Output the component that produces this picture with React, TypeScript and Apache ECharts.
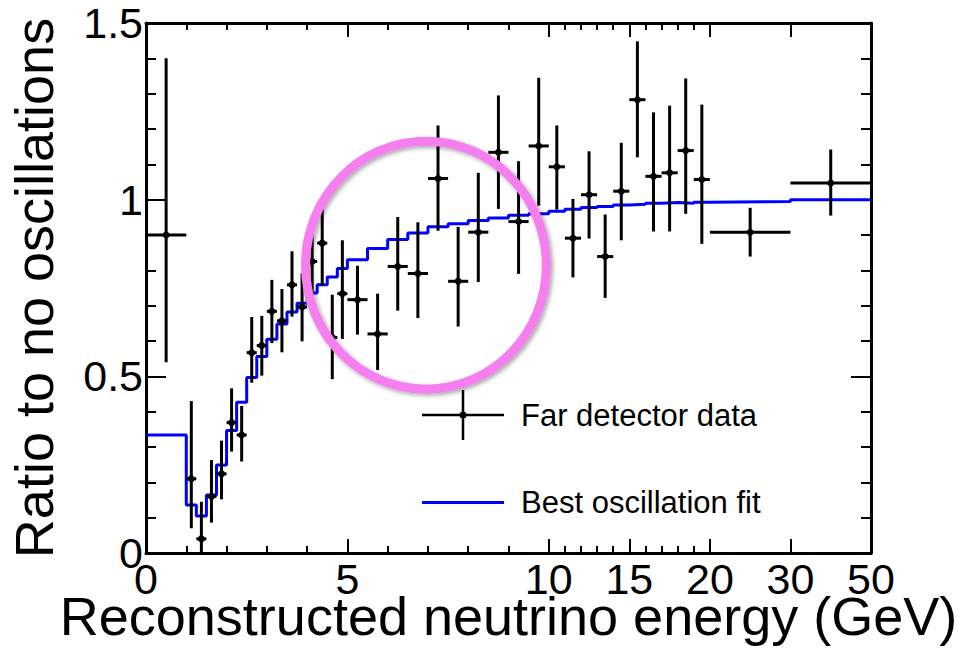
import React, { useEffect, useRef } from "react";
import * as echarts from "echarts";

// Bin edges in GeV (39 bins)
const binEdges = [0, 1, 1.25, 1.5, 1.75, 2, 2.25, 2.5, 2.75, 3, 3.25, 3.5, 3.75, 4, 4.25, 4.5, 4.75, 5,
  5.5, 6, 6.5, 7, 7.5, 8, 8.5, 9, 9.5, 10, 11, 12, 13, 14, 15, 16, 17, 18, 19, 20, 30, 50];

// Far detector data: ratio and error bar extents
const dataRatio = [0.90, 0.21, 0.04, 0.16, 0.224, 0.369, 0.334, 0.567, 0.587, 0.684, 0.657, 0.759, 0.696,
  0.825, 0.877, 0.61, 0.734, 0.717, 0.620, 0.811, 0.791, 1.060, 0.769, 0.908, 1.134, 0.938, 1.152,
  1.093, 0.891, 1.014, 0.839, 1.024, 1.283, 1.066, 1.076, 1.139, 1.057, 0.908, 1.047];
const dataHigh = [1.40, 0.43, 0.145, 0.263, 0.318, 0.466, 0.416, 0.668, 0.671, 0.773, 0.747, 0.854, 0.792,
  0.925, 0.975, 0.731, 0.885, 0.813, 0.734, 0.951, 0.936, 1.210, 0.923, 1.076, 1.295, 1.109, 1.345,
  1.210, 1.002, 1.137, 0.958, 1.161, 1.448, 1.247, 1.266, 1.343, 1.269, 0.977, 1.142];
const dataLow = [0.54, 0.07, 0.0, 0.086, 0.152, 0.287, 0.259, 0.482, 0.502, 0.594, 0.568, 0.669, 0.599,
  0.725, 0.756, 0.492, 0.606, 0.618, 0.518, 0.686, 0.665, 0.912, 0.641, 0.767, 0.974, 0.790, 0.983,
  0.972, 0.780, 0.890, 0.722, 0.885, 1.120, 0.910, 0.910, 0.960, 0.875, 0.839, 0.955];

// Best oscillation fit, one value per bin
const fitRatio = [0.334, 0.136, 0.105, 0.164, 0.249, 0.347, 0.427, 0.497, 0.556, 0.605, 0.648, 0.682, 0.707,
  0.736, 0.759, 0.781, 0.805, 0.830, 0.862, 0.887, 0.906, 0.923, 0.932, 0.941, 0.948, 0.956, 0.960,
  0.967, 0.973, 0.978, 0.981, 0.985, 0.987, 0.990, 0.992, 0.990, 0.993, 0.995, 1.0];

// Axis ticks (GeV)
const majorTicks = [0, 5, 10, 15, 20, 30, 50];
const minorTicks = [1, 2, 3, 4, 6, 7, 8, 9, 11, 12, 13, 14, 16, 17, 18, 19];

// Highlight circle (annotation) in data space: centre energy, ratio; radii in axis units
const circleCenter = [6.95, 0.8145];
const circleRadius = [2.99, 0.351];

const FONT = "'Liberation Sans', Arial, Helvetica, sans-serif";

// Piecewise-linear energy scale used by the reference x axis
const toAxis = (e: number) =>
  e <= 10 ? e : e <= 20 ? 10 + (e - 10) * 0.4 : e <= 30 ? 14 + (e - 20) * 0.2 : 16 + (e - 30) * 0.1;

export default function App() {
  const ref = useRef<HTMLDivElement>(null);
  useEffect(() => {
    if (!ref.current) return;
    const chart = echarts.init(ref.current, null, { renderer: "svg" });
    const majorPos = majorTicks.map(toAxis);
    const minorPos = minorTicks.map(toAxis);
    const pts = dataRatio.map((v, i) => {
      const a = toAxis(binEdges[i]);
      const b = toAxis(binEdges[i + 1]);
      return [a, b, (a + b) / 2, v, dataLow[i], dataHigh[i]];
    });
    const fitLine = binEdges.map((e, i) => [toAxis(e), fitRatio[Math.min(i, fitRatio.length - 1)]]);

    const axisBase = {
      type: "value",
      min: 0,
      max: 18,
      splitLine: { show: false },
      gridIndex: 0,
    };
    const lineOn = { show: true, onZero: false, lineStyle: { color: "#000", width: 3 } };
    const lineOff = { show: false, onZero: false };

    const option: any = {
      animation: false,
      backgroundColor: "#fff",
      grid: { left: 146, right: 106, top: 23, bottom: 111, outerBoundsMode: "none", containLabel: false },
      xAxis: [
        {
          ...axisBase,
          position: "bottom",
          axisLine: lineOn,
          axisTick: { show: true, inside: true, length: 14, customValues: majorPos, lineStyle: { color: "#000", width: 2 } },
          axisLabel: {
            show: true,
            customValues: majorPos,
            margin: 10,
            fontSize: 43,
            lineHeight: 32,
            color: "#000",
            fontFamily: FONT,
            formatter: (v: number) => {
              const i = majorPos.findIndex((p) => Math.abs(p - v) < 1e-6);
              return i >= 0 ? String(majorTicks[i]) : "";
            },
          },
          name: "Reconstructed neutrino energy (GeV)",
          nameLocation: "middle",
          nameGap: 44,
          nameMoveOverlap: false,
          nameTextStyle: { fontSize: 54, lineHeight: 38, color: "#000", fontFamily: FONT },
        },
        {
          ...axisBase,
          position: "bottom",
          axisLine: lineOff,
          axisTick: { show: true, inside: true, length: 7, customValues: minorPos, lineStyle: { color: "#000", width: 2 } },
          axisLabel: { show: false },
        },
        {
          ...axisBase,
          position: "top",
          axisLine: lineOn,
          axisTick: { show: true, inside: true, length: 14, customValues: majorPos, lineStyle: { color: "#000", width: 2 } },
          axisLabel: { show: false },
        },
        {
          ...axisBase,
          position: "top",
          axisLine: lineOff,
          axisTick: { show: true, inside: true, length: 7, customValues: minorPos, lineStyle: { color: "#000", width: 2 } },
          axisLabel: { show: false },
        },
      ],
      yAxis: [
        {
          type: "value",
          min: 0,
          max: 1.5,
          interval: 0.5,
          position: "left",
          splitLine: { show: false },
          axisLine: lineOn,
          axisTick: { show: true, inside: true, length: 20, lineStyle: { color: "#000", width: 2 } },
          minorTick: { show: true, splitNumber: 5, length: 10, lineStyle: { color: "#000", width: 2 } },
          axisLabel: { margin: 3, fontSize: 43, color: "#000", fontFamily: FONT },
          name: "Ratio to no oscillations",
          nameLocation: "middle",
          nameRotate: 90,
          nameGap: 85,
          nameMoveOverlap: false,
          nameTextStyle: { fontSize: 54, color: "#000", fontFamily: FONT },
        },
        {
          type: "value",
          min: 0,
          max: 1.5,
          interval: 0.5,
          position: "right",
          splitLine: { show: false },
          axisLine: lineOn,
          axisTick: { show: true, inside: true, length: 20, lineStyle: { color: "#000", width: 2 } },
          minorTick: { show: true, splitNumber: 5, length: 10, lineStyle: { color: "#000", width: 2 } },
          axisLabel: { show: false },
        },
      ],
      legend: {
        orient: "vertical",
        left: 422,
        top: 390,
        padding: 0,
        itemWidth: 82,
        itemHeight: 50,
        itemGap: 47,
        selectedMode: false,
        textStyle: { fontSize: 31, color: "#000", fontFamily: FONT, padding: [0, 0, 0, 12] },
        data: [
          {
            name: "Far detector data",
            icon: "path://M0,23.75H82V26.25H0Z M39.75,0H42.25V50H39.75Z M44.5,25A3.5,3.5 0 1 1 37.5,25A3.5,3.5 0 1 1 44.5,25Z",
          },
          { name: "Best oscillation fit", icon: "path://M0,0H82V3H0Z" },
        ],
      },
      series: [
        {
          name: "Best oscillation fit",
          type: "line",
          xAxisIndex: 0,
          yAxisIndex: 0,
          step: "end",
          symbol: "none",
          data: fitLine,
          lineStyle: { color: "#0000ff", width: 3 },
          itemStyle: { color: "#0000ff" },
          z: 2,
        },
        {
          name: "Far detector data",
          type: "custom",
          xAxisIndex: 0,
          yAxisIndex: 0,
          itemStyle: { color: "#000" },
          encode: { x: [0, 1, 2], y: [3, 4, 5] },
          data: pts,
          z: 3,
          renderItem: (params: any, api: any) => {
            const xl = api.value(0), xh = api.value(1), xc = api.value(2);
            const y = api.value(3), lo = api.value(4), hi = api.value(5);
            const pL = api.coord([xl, y]);
            const pH = api.coord([xh, y]);
            const pLo = api.coord([xc, lo]);
            const pHi = api.coord([xc, hi]);
            const pC = api.coord([xc, y]);
            return {
              type: "group",
              children: [
                { type: "line", shape: { x1: pL[0], y1: pL[1], x2: pH[0], y2: pH[1] }, style: { stroke: "#000", lineWidth: 3 } },
                { type: "line", shape: { x1: pLo[0], y1: pLo[1], x2: pHi[0], y2: pHi[1] }, style: { stroke: "#000", lineWidth: 3 } },
                { type: "circle", shape: { cx: pC[0], cy: pC[1], r: 3.5 }, style: { fill: "#000" } },
              ],
            };
          },
        },
      ],
    };
    chart.setOption(option);

    const c = chart.convertToPixel({ xAxisIndex: 0, yAxisIndex: 0 }, [circleCenter[0], circleCenter[1]]) as number[];
    const r = chart.convertToPixel({ xAxisIndex: 0, yAxisIndex: 0 }, [
      circleCenter[0] + circleRadius[0],
      circleCenter[1] + circleRadius[1],
    ]) as number[];
    chart.setOption({
      graphic: [
        {
          type: "ellipse",
          z: 100,
          shape: { cx: c[0], cy: c[1], rx: Math.abs(r[0] - c[0]), ry: Math.abs(c[1] - r[1]) },
          style: {
            fill: "none",
            stroke: "#f67ff0",
            lineWidth: 9,
            shadowBlur: 4,
            shadowColor: "rgba(0,0,0,0.35)",
            shadowOffsetX: 2,
            shadowOffsetY: 2,
          },
        },
      ],
    });
    return () => chart.dispose();
  }, []);
  return (
    <div
      ref={ref}
      style={{ position: "fixed", left: 0, top: 0, width: 977, height: 664, background: "#fff" }}
    />
  );
}
